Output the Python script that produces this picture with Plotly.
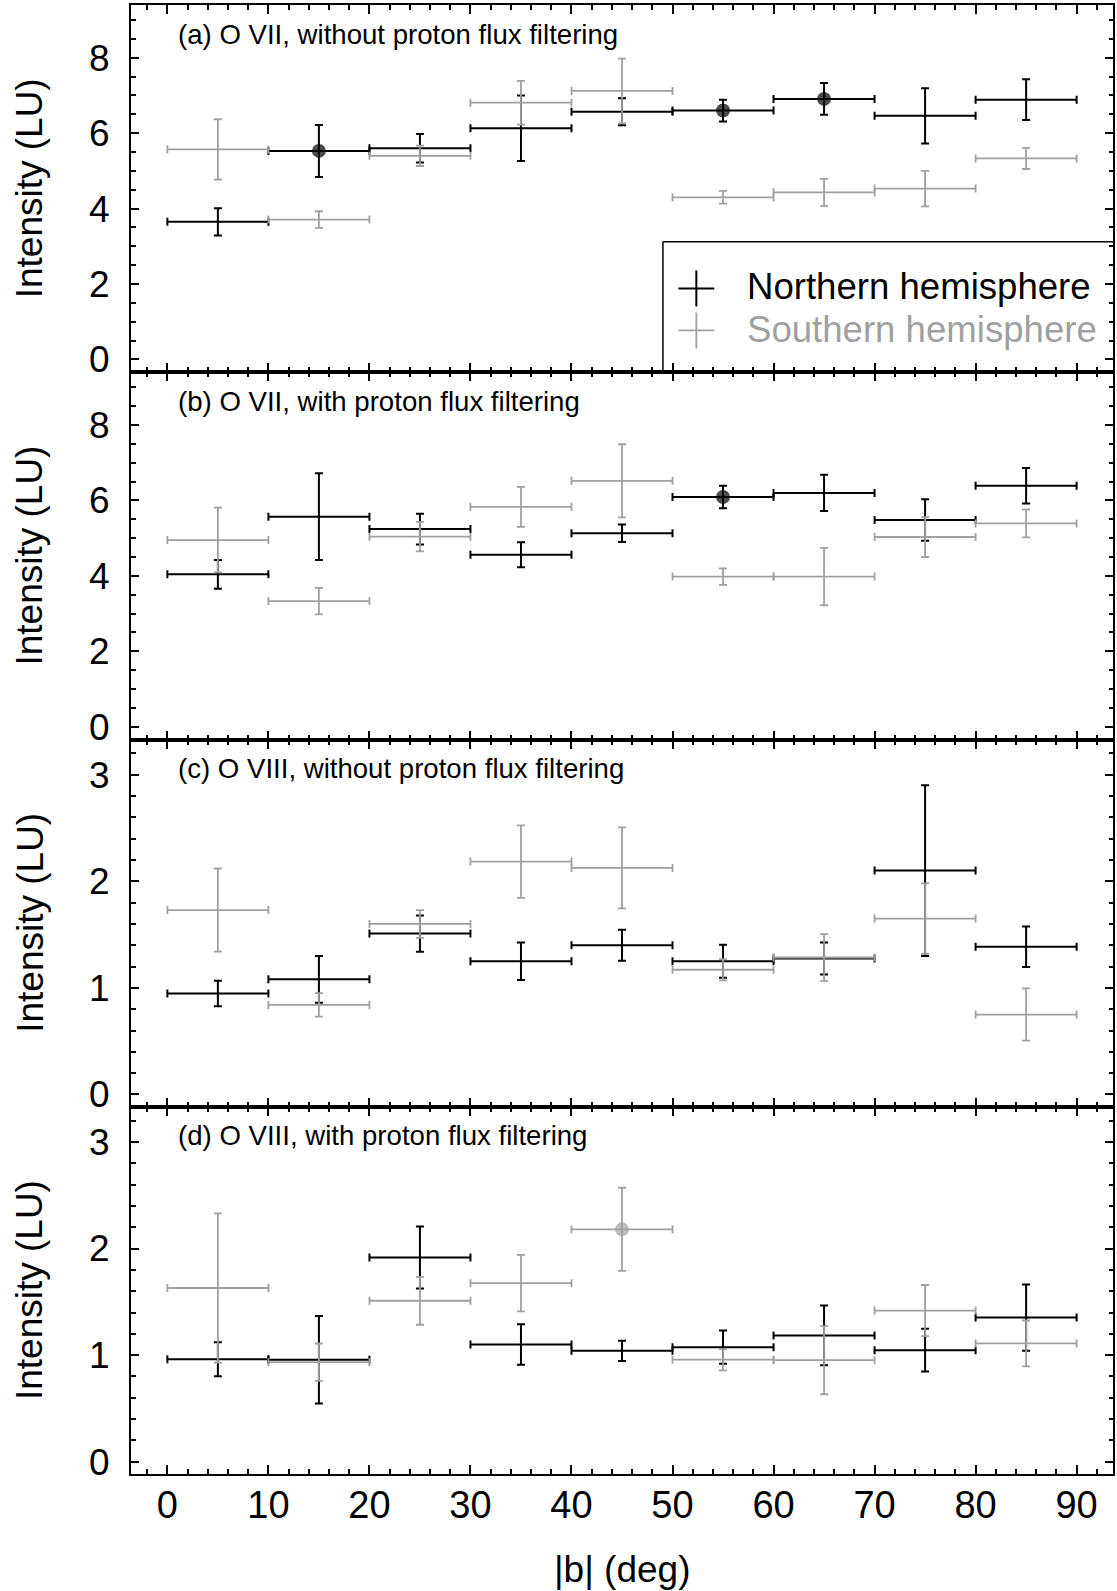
import plotly.graph_objects as go
from plotly.subplots import make_subplots

# Galactic latitude bins |b| (deg): centres and half-widths
b_centre = [5, 15, 25, 35, 45, 55, 65, 75, 85]
b_halfwidth = [5, 5, 5, 5, 5, 5, 5, 5, 5]

# (a) O VII, without proton flux filtering
ovii_nofilt_north = [3.65, 5.53, 5.60, 6.13, 6.57, 6.60, 6.91, 6.46, 6.89]
ovii_nofilt_north_err = [0.36, 0.69, 0.38, 0.87, 0.36, 0.29, 0.42, 0.73, 0.54]
ovii_nofilt_north_flag = [0, 1, 0, 0, 0, 1, 1, 0, 0]
ovii_nofilt_south = [5.57, 3.71, 5.40, 6.81, 7.12, 4.30, 4.43, 4.53, 5.33]
ovii_nofilt_south_err = [0.80, 0.22, 0.27, 0.58, 0.86, 0.17, 0.36, 0.47, 0.28]
ovii_nofilt_south_flag = [0, 0, 0, 0, 0, 0, 0, 0, 0]

# (b) O VII, with proton flux filtering
ovii_filt_north = [4.04, 5.57, 5.24, 4.56, 5.13, 6.09, 6.20, 5.48, 6.39]
ovii_filt_north_err = [0.38, 1.15, 0.41, 0.33, 0.23, 0.30, 0.48, 0.55, 0.47]
ovii_filt_north_flag = [0, 0, 0, 0, 0, 1, 0, 0, 0]
ovii_filt_south = [4.95, 3.33, 5.04, 5.83, 6.52, 3.98, 3.98, 5.03, 5.39]
ovii_filt_south_err = [0.86, 0.35, 0.39, 0.53, 0.97, 0.22, 0.76, 0.53, 0.37]
ovii_filt_south_flag = [0, 0, 0, 0, 0, 0, 0, 0, 0]

# (c) O VIII, without proton flux filtering
oviii_nofilt_north = [0.947, 1.08, 1.51, 1.25, 1.40, 1.25, 1.275, 2.10, 1.385]
oviii_nofilt_north_err = [0.12, 0.22, 0.17, 0.175, 0.145, 0.155, 0.15, 0.80, 0.19]
oviii_nofilt_north_flag = [0, 0, 0, 0, 0, 0, 0, 0, 0]
oviii_nofilt_south = [1.73, 0.84, 1.60, 2.185, 2.125, 1.17, 1.285, 1.65, 0.75]
oviii_nofilt_south_err = [0.39, 0.11, 0.13, 0.34, 0.38, 0.10, 0.22, 0.33, 0.245]
oviii_nofilt_south_flag = [0, 0, 0, 0, 0, 0, 0, 0, 0]

# (d) O VIII, with proton flux filtering
oviii_filt_north = [0.962, 0.957, 1.916, 1.10, 1.04, 1.075, 1.185, 1.047, 1.352]
oviii_filt_north_err = [0.16, 0.41, 0.29, 0.19, 0.095, 0.155, 0.28, 0.20, 0.31]
oviii_filt_north_flag = [0, 0, 0, 0, 0, 0, 0, 0, 0]
oviii_filt_south = [1.63, 0.934, 1.51, 1.675, 2.18, 0.957, 0.953, 1.418, 1.11]
oviii_filt_south_err = [0.70, 0.175, 0.225, 0.265, 0.39, 0.10, 0.32, 0.24, 0.215]
oviii_filt_south_flag = [0, 0, 0, 0, 1, 0, 0, 0, 0]

panel_labels = [
    "(a) O VII, without proton flux filtering",
    "(b) O VII, with proton flux filtering",
    "(c) O VIII, without proton flux filtering",
    "(d) O VIII, with proton flux filtering",
]
legend_names = ["Northern hemisphere", "Southern hemisphere"]

panels = [
    (ovii_nofilt_north, ovii_nofilt_north_err, ovii_nofilt_north_flag,
     ovii_nofilt_south, ovii_nofilt_south_err, ovii_nofilt_south_flag),
    (ovii_filt_north, ovii_filt_north_err, ovii_filt_north_flag,
     ovii_filt_south, ovii_filt_south_err, ovii_filt_south_flag),
    (oviii_nofilt_north, oviii_nofilt_north_err, oviii_nofilt_north_flag,
     oviii_nofilt_south, oviii_nofilt_south_err, oviii_nofilt_south_flag),
    (oviii_filt_north, oviii_filt_north_err, oviii_filt_north_flag,
     oviii_filt_south, oviii_filt_south_err, oviii_filt_south_flag),
]

BLACK = "#000000"
GREY = "#a0a0a0"
FONT = "Liberation Sans, Arial, sans-serif"

W, H = 1117, 1591
ML, MR, MT, MB = 131, 2, 5, 117
plot_w = W - ML - MR
plot_h = H - MT - MB

fig = make_subplots(rows=4, cols=1, shared_xaxes=True, vertical_spacing=0)


def add_series(row, y, err, flag, color, width, name):
    fig.add_trace(
        go.Scatter(
            x=b_centre, y=y, mode="markers", name=name, showlegend=False,
            marker=dict(size=[14 if f else 0 for f in flag], color=color,
                        symbol="circle", line=dict(width=0)),
            error_x=dict(type="data", array=b_halfwidth, symmetric=True,
                         color=color, thickness=width, width=4),
            error_y=dict(type="data", array=err, symmetric=True,
                         color=color, thickness=width, width=4),
            hoverinfo="skip",
        ),
        row=row, col=1,
    )


for i, (yn, en, fn, ys, es, fs) in enumerate(panels):
    add_series(i + 1, yn, en, fn, BLACK, 2, legend_names[0])
    add_series(i + 1, ys, es, fs, GREY, 1.8, legend_names[1])

axis_common = dict(
    showline=True, linecolor="black", linewidth=2, mirror="allticks",
    ticks="inside", tickcolor="black", tickwidth=1.5,
    showgrid=False, zeroline=False,
)

for i in range(4):
    fig.update_xaxes(
        range=[-3.6, 93.6], tick0=0, dtick=10, ticklen=9,
        minor=dict(ticks="inside", ticklen=5, tick0=0, dtick=2,
                   tickcolor="black", tickwidth=1.5, showgrid=False),
        tickfont=dict(family=FONT, size=38, color="black"),
        ticklabelstandoff=-4,
        row=i + 1, col=1, **axis_common,
    )
    if i < 2:
        yr, dt, mdt = [-0.34, 9.4], 2, 0.5
    else:
        yr, dt, mdt = [-0.115, 3.33], 1, 0.2
    fig.update_yaxes(
        range=yr, tick0=0, dtick=dt, ticklen=8,
        minor=dict(ticks="inside", ticklen=4.5, tick0=0, dtick=mdt,
                   tickcolor="black", tickwidth=1.5, showgrid=False),
        tickfont=dict(family=FONT, size=37, color="black"),
        ticklabelstandoff=12,
        row=i + 1, col=1, **axis_common,
    )

annotations = []
shapes = []
yaxis_ids = ["y", "y2", "y3", "y4"]
xaxis_ids = ["x", "x2", "x3", "x4"]

for i in range(4):
    xd = xaxis_ids[i] + " domain"
    yd = yaxis_ids[i] + " domain"
    # panel label
    annotations.append(dict(
        text=panel_labels[i], xref=xd, yref=yd, x=0.046, y=0.921,
        xanchor="left", yanchor="middle", showarrow=False,
        font=dict(family=FONT, size=27.6, color="black"),
    ))
    # y-axis title
    annotations.append(dict(
        text="Intensity (LU)", xref="paper", yref=yd,
        x=(29.5 - ML) / plot_w, y=0.5, textangle=-90,
        xanchor="center", yanchor="middle", showarrow=False,
        font=dict(family=FONT, size=37, color="black"),
    ))

# x-axis title
annotations.append(dict(
    text="|b| (deg)", xref="paper", yref="paper",
    x=0.5, y=-(1569 - (H - MB)) / plot_h,
    xanchor="center", yanchor="middle", showarrow=False,
    font=dict(family=FONT, size=37, color="black"),
))

# key box in panel (a)
box_left = (664 - ML) / plot_w
box_top = 0.3556
shapes.append(dict(type="line", xref="x domain", yref="y domain",
                   x0=box_left, x1=box_left, y0=0, y1=box_top,
                   line=dict(color="black", width=1.5)))
shapes.append(dict(type="line", xref="x domain", yref="y domain",
                   x0=box_left, x1=1, y0=box_top, y1=box_top,
                   line=dict(color="black", width=1.5)))

key_x = (697.5 - ML) / plot_w
key_hx = 18 / plot_w
panel_h = plot_h / 4
key_hy = 18 / panel_h
key_rows = [((372.3 - 288.5) / panel_h, (372.3 - 286.7) / panel_h, BLACK, 2),
            ((372.3 - 330.5) / panel_h, (372.3 - 329.5) / panel_h, GREY, 1.8)]
for (cy, ty, col, lw), name in zip(key_rows, legend_names):
    shapes.append(dict(type="line", xref="x domain", yref="y domain",
                       x0=key_x - key_hx, x1=key_x + key_hx, y0=cy, y1=cy,
                       line=dict(color=col, width=lw)))
    shapes.append(dict(type="line", xref="x domain", yref="y domain",
                       x0=key_x, x1=key_x, y0=cy - key_hy, y1=cy + key_hy,
                       line=dict(color=col, width=lw)))
    annotations.append(dict(
        text=name, xref="x domain", yref="y domain",
        x=(746 - ML) / plot_w, y=ty, xanchor="left", yanchor="middle",
        showarrow=False, font=dict(family=FONT, size=36.6, color=col),
    ))

fig.update_layout(
    width=W, height=H,
    margin=dict(l=ML, r=MR, t=MT, b=MB),
    paper_bgcolor="white", plot_bgcolor="white",
    showlegend=False,
    annotations=annotations, shapes=shapes,
    font=dict(family=FONT, color="black"),
)

fig.write_html("out.html")
